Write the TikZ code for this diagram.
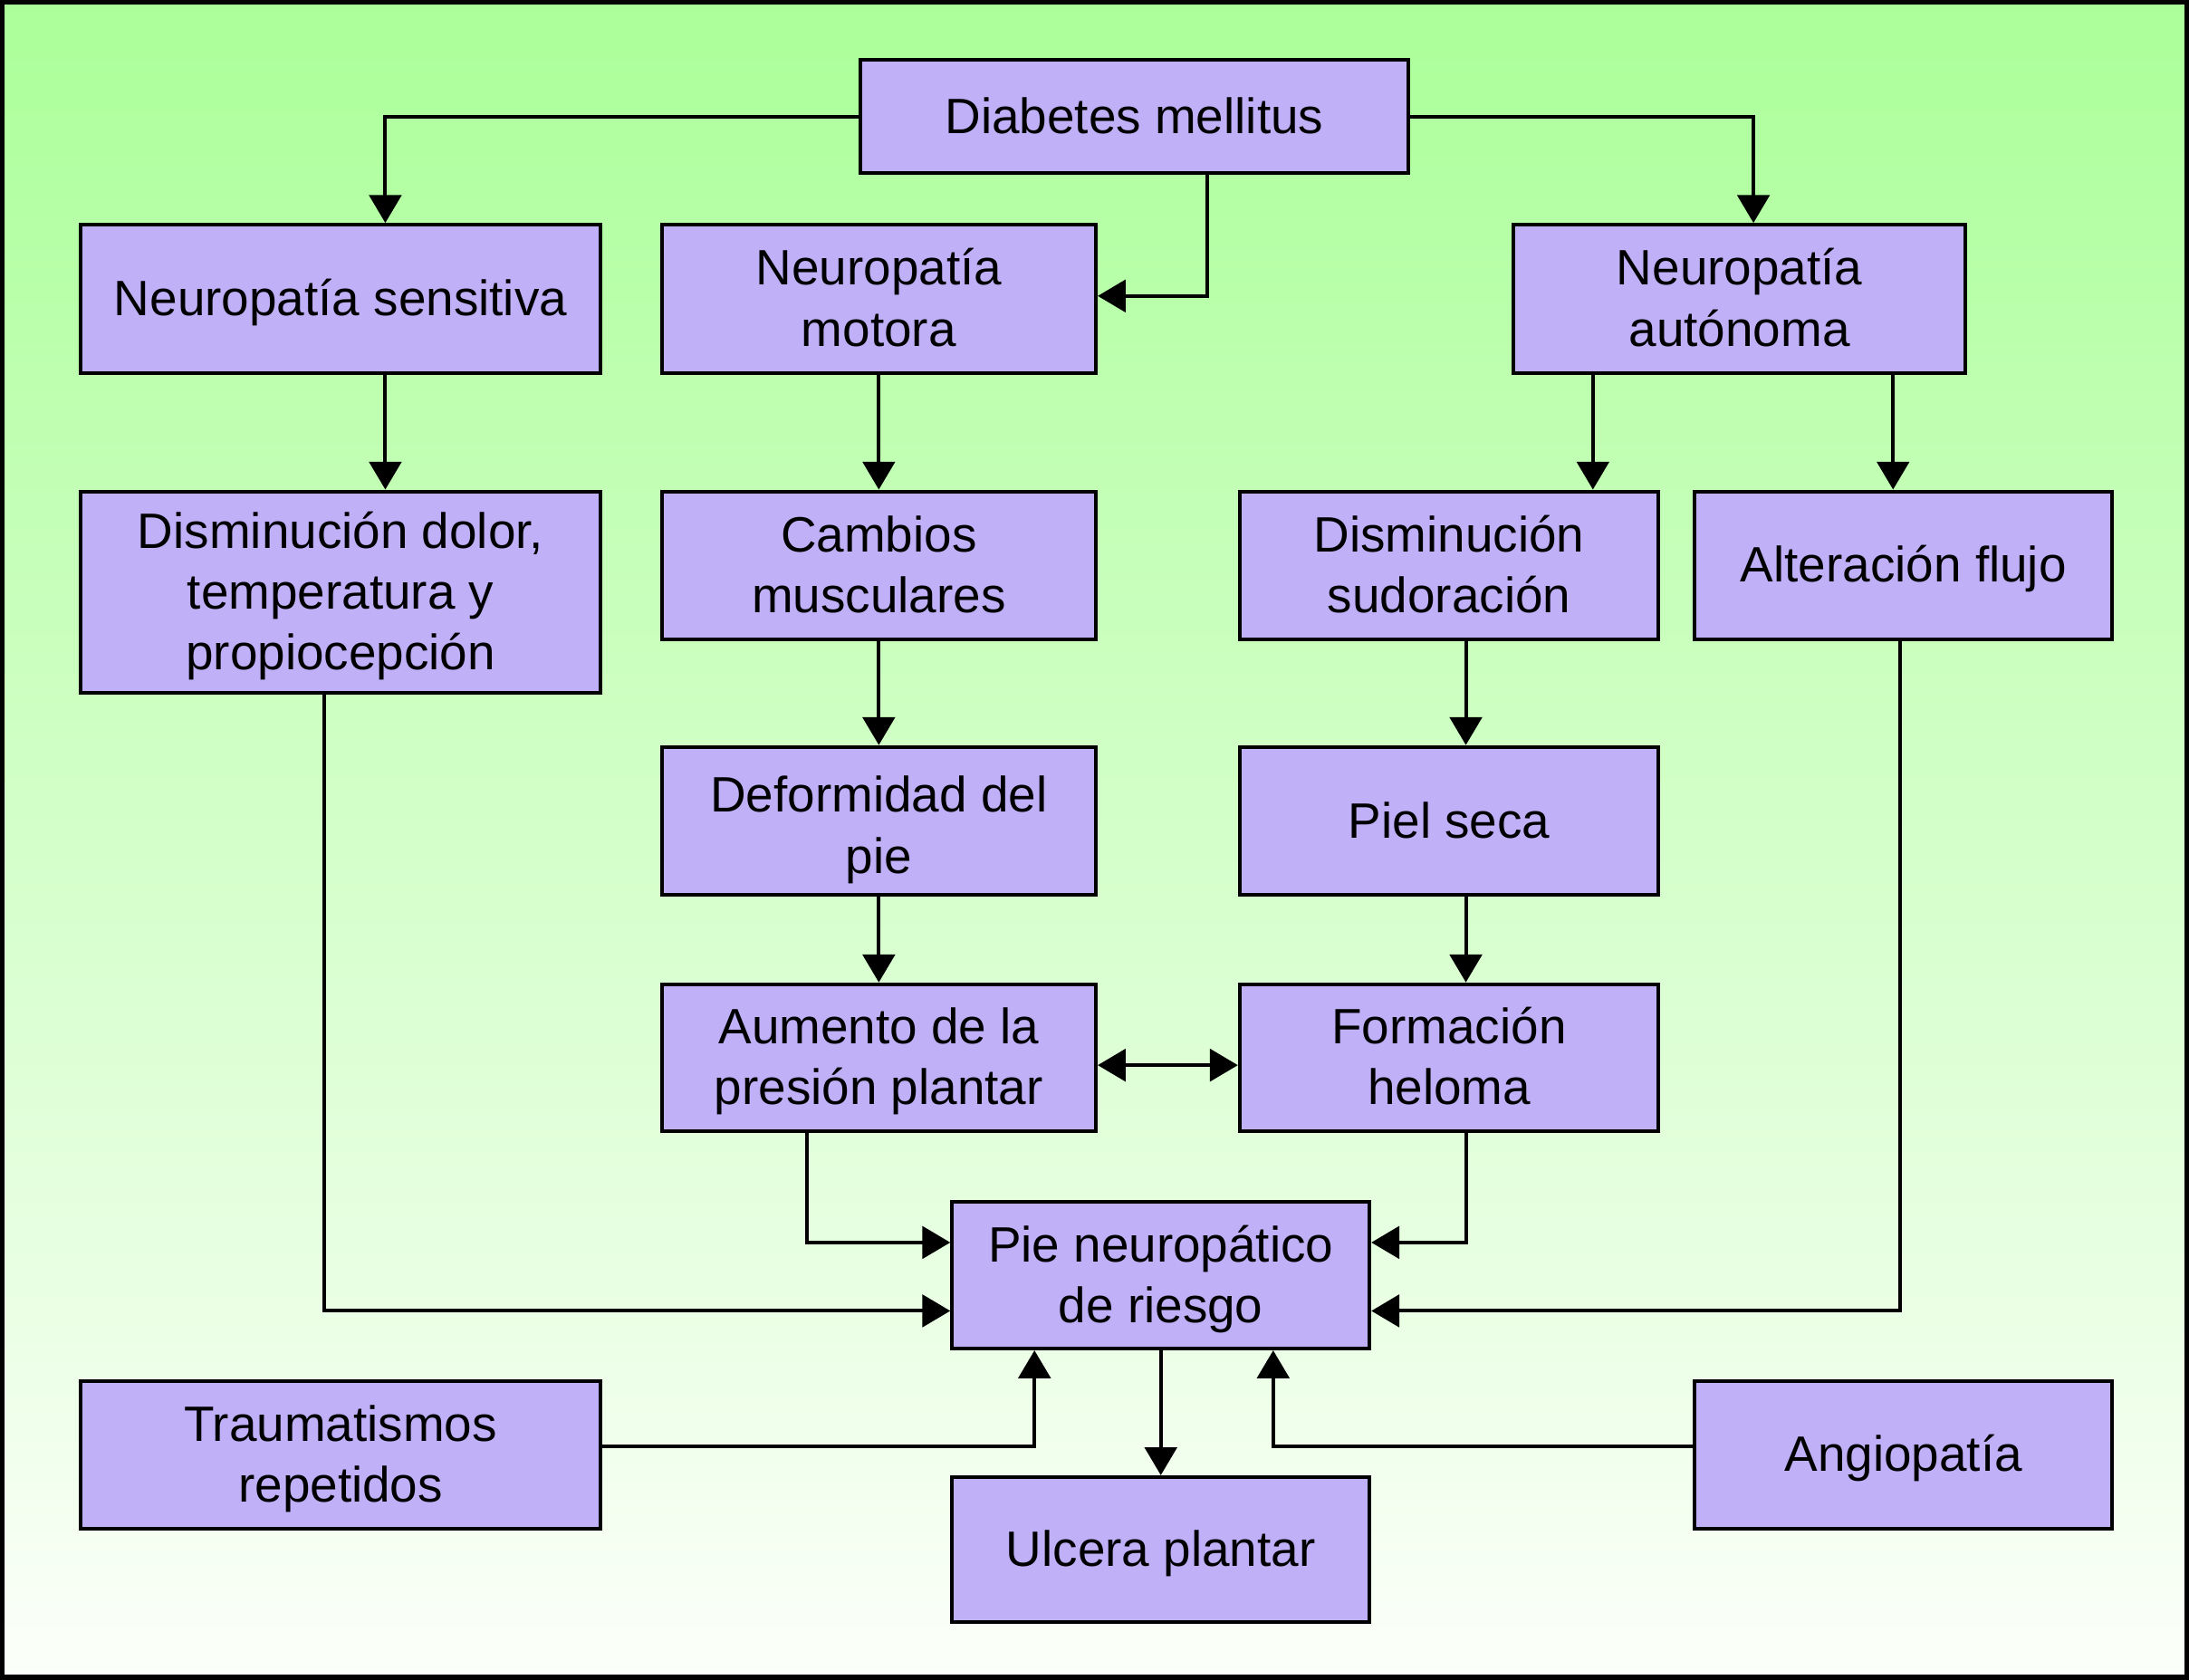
\documentclass[tikz,border=0pt]{standalone}
\usepackage{fontspec}
\setmainfont{Liberation Sans}
\usetikzlibrary{arrows.meta}
\definecolor{boxfill}{RGB}{192,176,248}
\definecolor{bgtop}{RGB}{171,255,153}
\definecolor{bgmid}{RGB}{214,255,205}
\definecolor{bgbot}{RGB}{252,255,250}
\newcommand{\fs}{\rule[-0.22em]{0pt}{1.12em}}
\newcommand{\fsx}{\rule[-0.22em]{0pt}{1.32em}}
\tikzset{
  box/.style={draw=black, line width=1.3pt, fill=boxfill, inner sep=0pt, align=center,
    font=\fontsize{17.8pt}{21.75pt}\selectfont},
  arr/.style={draw=black, line width=1.3pt, -{Triangle[length=10pt,width=11.5pt]}},
  darr/.style={draw=black, line width=1.3pt, {Triangle[length=10pt,width=11.5pt]}-{Triangle[length=10pt,width=11.5pt]}}
}
\begin{document}
\begin{tikzpicture}[x=0.5pt,y=-0.5pt]
\useasboundingbox (0,0) rectangle (1568,1202.8);
\shade[top color=bgtop, middle color=bgmid, bottom color=bgbot] (0,0) rectangle (1568,1202.8);
\draw[line width=2pt] (1.5,1.5) rectangle (1566.5,1201.3);

\node[box, minimum width=196.5pt, minimum height=40.5pt] (dm) at (812.5,83.5) {\fs Diabetes mellitus};
\node[box, minimum width=186pt, minimum height=53pt] (ns) at (244,214) {\fs Neuropatía sensitiva};
\node[box, minimum width=155.5pt, minimum height=53pt] (nm) at (629.5,214) {\fs Neuropatía\\\fs motora};
\node[box, minimum width=162pt, minimum height=53pt] (na) at (1246,214) {\fs Neuropatía\\\fs autónoma};
\node[box, minimum width=186pt, minimum height=72pt] (dd) at (244,424) {\fs Disminución dolor,\\\fs temperatura y\\\fs propiocepción};
\node[box, minimum width=155.5pt, minimum height=53pt] (cm) at (629.5,405) {\fs Cambios\\\fs musculares};
\node[box, minimum width=150pt, minimum height=53pt] (ds) at (1038,405) {\fs Disminución\\\fs sudoración};
\node[box, minimum width=149.5pt, minimum height=53pt] (af) at (1363.5,405) {\fs Alteración flujo};
\node[box, minimum width=155.5pt, minimum height=53pt] (df) at (629.5,588) {\fsx Deformidad del\\\fs pie};
\node[box, minimum width=150pt, minimum height=53pt] (ps) at (1038,588) {\fs Piel seca};
\node[box, minimum width=155.5pt, minimum height=52.5pt] (ap) at (629.5,757.5) {\fs Aumento de la\\\fs presión plantar};
\node[box, minimum width=150pt, minimum height=52.5pt] (fh) at (1038,757.5) {\fs Formación\\\fs heloma};
\node[box, minimum width=149.5pt, minimum height=52.5pt] (pn) at (831.5,913.5) {\fs Pie neuropático\\\fs de riesgo};
\node[box, minimum width=186pt, minimum height=53pt] (tr) at (244,1042) {\fs Traumatismos\\\fs repetidos};
\node[box, minimum width=149.5pt, minimum height=53pt] (an) at (1363.5,1042) {\fs Angiopatía};
\node[box, minimum width=149.5pt, minimum height=52pt] (up) at (831.5,1110) {\fs Ulcera plantar};

\coordinate (c276) at (276,0);
\coordinate (c1256) at (1256,0);
\coordinate (c865) at (865,0);
\coordinate (c1141) at (1141,0);
\coordinate (c1356) at (1356,0);
\coordinate (c1050) at (1050,0);
\coordinate (c578) at (578,0);
\coordinate (c232) at (232,0);
\coordinate (c1361) at (1361,0);
\coordinate (c741) at (741,0);
\coordinate (c912) at (912,0);
\coordinate (c763) at (0,763);
\coordinate (c890) at (0,890);
\coordinate (c939) at (0,939);
\coordinate (c1036) at (0,1036);
\coordinate (c212) at (0,212);

\draw[arr] (dm.west) -| (ns.north -| c276);
\draw[arr] (dm.east) -| (na.north -| c1256);
\draw[arr] (dm.south -| c865) |- (nm.east |- c212);
\draw[arr] (ns.south -| c276) -- (dd.north -| c276);
\draw[arr] (nm.south) -- (cm.north);
\draw[arr] (na.south -| c1141) -- (ds.north -| c1141);
\draw[arr] (na.south -| c1356) -- (af.north -| c1356);
\draw[arr] (cm.south) -- (df.north);
\draw[arr] (ds.south -| c1050) -- (ps.north -| c1050);
\draw[arr] (df.south) -- (ap.north);
\draw[arr] (ps.south -| c1050) -- (fh.north -| c1050);
\draw[darr] (ap.east |- c763) -- (fh.west |- c763);
\draw[arr] (ap.south -| c578) |- (pn.west |- c890);
\draw[arr] (fh.south -| c1050) |- (pn.east |- c890);
\draw[arr] (dd.south -| c232) |- (pn.west |- c939);
\draw[arr] (af.south -| c1361) |- (pn.east |- c939);
\draw[arr] (tr.east |- c1036) -| (pn.south -| c741);
\draw[arr] (an.west |- c1036) -| (pn.south -| c912);
\draw[arr] (pn.south) -- (up.north);
\end{tikzpicture}
\end{document}
